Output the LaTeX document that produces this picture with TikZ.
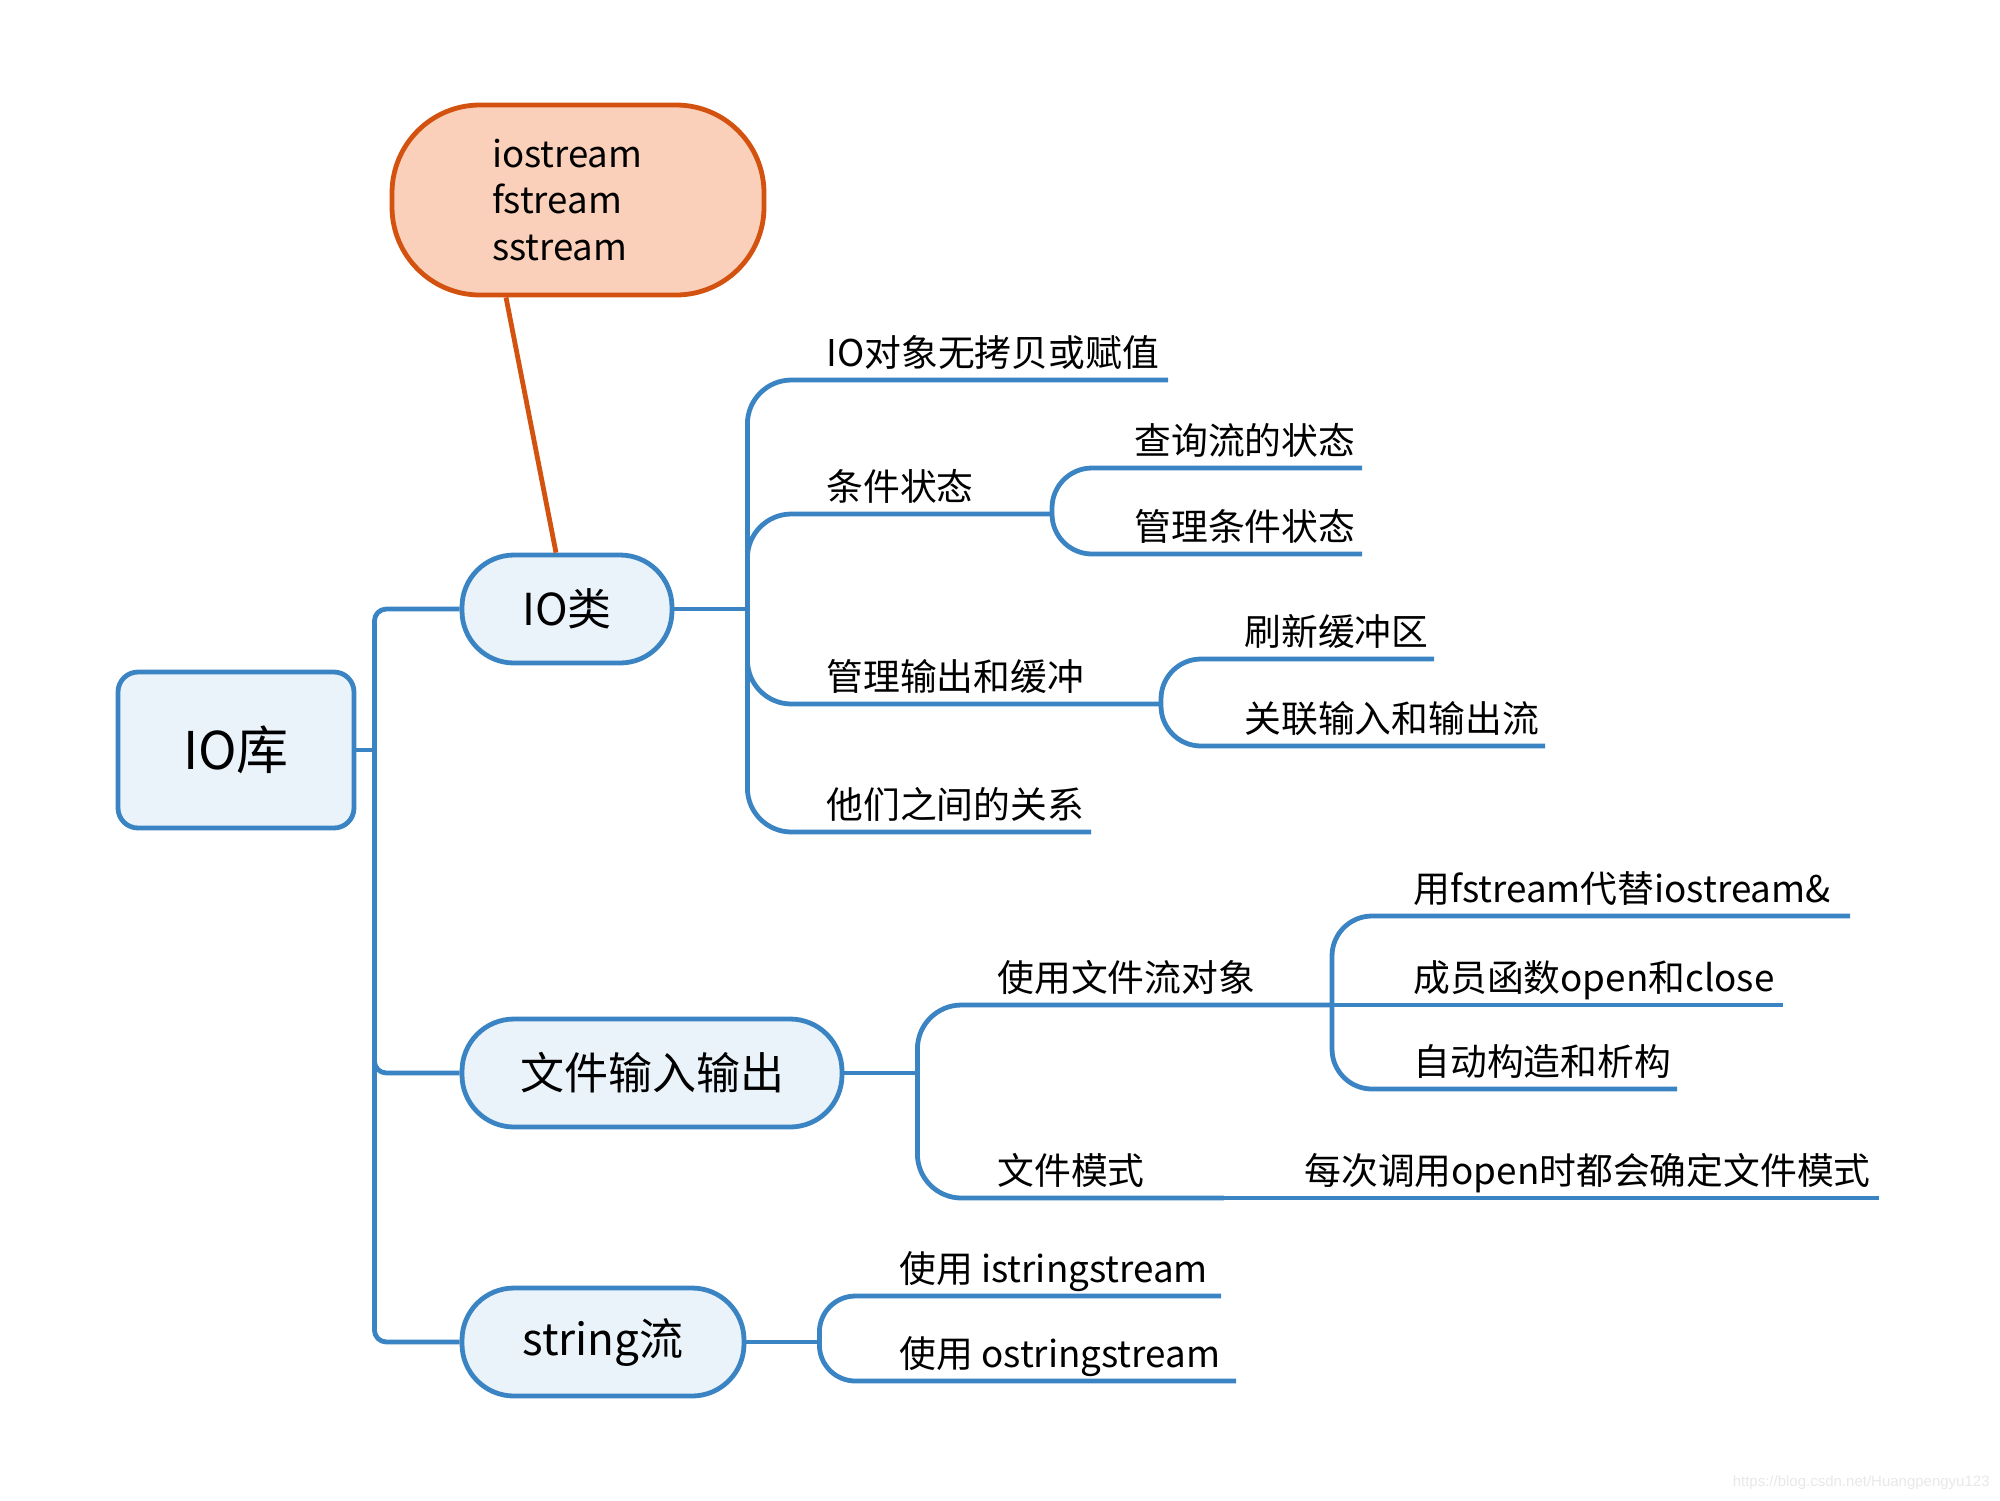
\documentclass[tikz,border=0pt]{standalone}
\usepackage{fontspec}
\setmainfont{Noto Sans CJK SC}
\newfontfamily\markfont{Liberation Sans}
\definecolor{linkblue}{RGB}{58,132,195}
\definecolor{boxfill}{RGB}{235,243,250}
\definecolor{notefill}{RGB}{251,208,186}
\definecolor{noteline}{RGB}{211,82,15}
\begin{document}
\begin{tikzpicture}[x=0.5pt,y=-0.5pt,line join=round,
root/.style = {draw=linkblue, fill=boxfill, line width=2.4pt, rounded corners=10pt, minimum width=118pt, minimum height=78pt, font=\fontsize{26}{30}\selectfont},
topic/.style = {draw=linkblue, fill=boxfill, line width=2.4pt, rounded corners=26pt, minimum height=54pt, font=\fontsize{22}{26}\selectfont},
note/.style = {draw=noteline, fill=notefill, line width=2.4pt, rounded corners=44pt, minimum height=95pt, inner xsep=50pt, text width=86pt, align=left, font=\fontsize{18.3}{23.3}\selectfont},
leaf/.style = {anchor=base west, inner sep=0pt, font=\fontsize{18.4}{22}\selectfont},
branch/.style = {draw=linkblue, line width=2.4pt},
link/.style = {draw=noteline, line width=2.4pt},
]
\useasboundingbox (0,0) rectangle (2000,1500);
\node (lib) at (236,750)[root] {IO库};
\node (IOc) at (567,609)[topic,minimum width=105pt] {IO类};
\node (file) at (652,1073)[topic,minimum width=190pt] {文件输入输出};
\node (str) at (603,1342)[topic,minimum width=141pt] {string流};
\node (hdr) at (578,200)[note] {iostream\\fstream\\sstream};
\draw[link] ([xshift=-36pt]hdr.south)--([xshift=-5.5pt]IOc.north);
\draw[branch] (lib.east)--++(18,0) coordinate (r0);
\draw[branch,rounded corners=6pt] (r0)|-(IOc.west);
\draw[branch,rounded corners=6pt] (r0)|-(file.west);
\draw[branch,rounded corners=6pt] (r0)|-(str.west);
\draw[branch] (IOc.east)--++(73,0) coordinate (c0);
\node (c1) at (826,366)[leaf] {IO对象无拷贝或赋值};
\node (c2) at (826,500)[leaf] {条件状态};
\node (c21) at (1134,454)[leaf] {查询流的状态};
\node (c22) at (1134,540)[leaf] {管理条件状态};
\node (c3) at (826,690)[leaf] {管理输出和缓冲};
\node (c31) at (1244,645)[leaf] {刷新缓冲区};
\node (c32) at (1244,732)[leaf] {关联输入和输出流};
\node (c4) at (826,818)[leaf] {他们之间的关系};
\coordinate (c1e) at (1168,380);
\coordinate (c2e) at (1052,514);
\coordinate (c21e) at (1362,468);
\coordinate (c22e) at (1362,554);
\coordinate (c3e) at (1161,704);
\coordinate (c31e) at (1434,659);
\coordinate (c32e) at (1545,746);
\coordinate (c4e) at (1091,832);
\draw[branch,rounded corners=22pt] (c0)|-(c1e);
\draw[branch,rounded corners=22pt] (c0)|-(c2e);
\draw[branch,rounded corners=22pt] (c0)|-(c3e);
\draw[branch,rounded corners=22pt] (c0)|-(c4e);
\draw[branch,rounded corners=20pt] (c2e)|-(c21e);
\draw[branch,rounded corners=20pt] (c2e)|-(c22e);
\draw[branch,rounded corners=20pt] (c3e)|-(c31e);
\draw[branch,rounded corners=20pt] (c3e)|-(c32e);
\draw[branch] (file.east)--++(73,0) coordinate (f0);
\node (f1) at (997,991)[leaf] {使用文件流对象};
\node (f11) at (1413,902)[leaf] {用fstream代替iostream\&};
\node (f12) at (1413,991)[leaf] {成员函数open和close};
\node (f13) at (1413,1075)[leaf] {自动构造和析构};
\node (f2) at (997,1184)[leaf] {文件模式};
\node (f21) at (1304,1184)[leaf] {每次调用open时都会确定文件模式};
\coordinate (f1e) at (1332,1005);
\coordinate (f11e) at (1850,916);
\coordinate (f12e) at (1783,1005);
\coordinate (f13e) at (1677,1089);
\coordinate (f2e) at (1224,1198);
\coordinate (f21e) at (1879,1198);
\draw[branch,rounded corners=22pt] (f0)|-(f1e);
\draw[branch,rounded corners=22pt] (f0)|-(f2e);
\draw[branch,rounded corners=20pt] (f1e)|-(f11e);
\draw[branch] (f1e)--(f12e);
\draw[branch,rounded corners=20pt] (f1e)|-(f13e);
\draw[branch] (f2e)--(f21e);
\draw[branch] (str.east)--++(73,0) coordinate (s0);
\node (s1) at (899,1282)[leaf] {使用 istringstream};
\node (s2) at (899,1367)[leaf] {使用 ostringstream};
\coordinate (s1e) at (1221,1296);
\coordinate (s2e) at (1236,1381);
\draw[branch,rounded corners=18pt] (s0)|-(s1e);
\draw[branch,rounded corners=18pt] (s0)|-(s2e);
\node (mark) at (1990,1483)[anchor=east, inner sep=0pt, text=black!9, font=\markfont\fontsize{7.5}{9}\selectfont] {https://blog.csdn.net/Huangpengyu123};
\end{tikzpicture}
\end{document}
